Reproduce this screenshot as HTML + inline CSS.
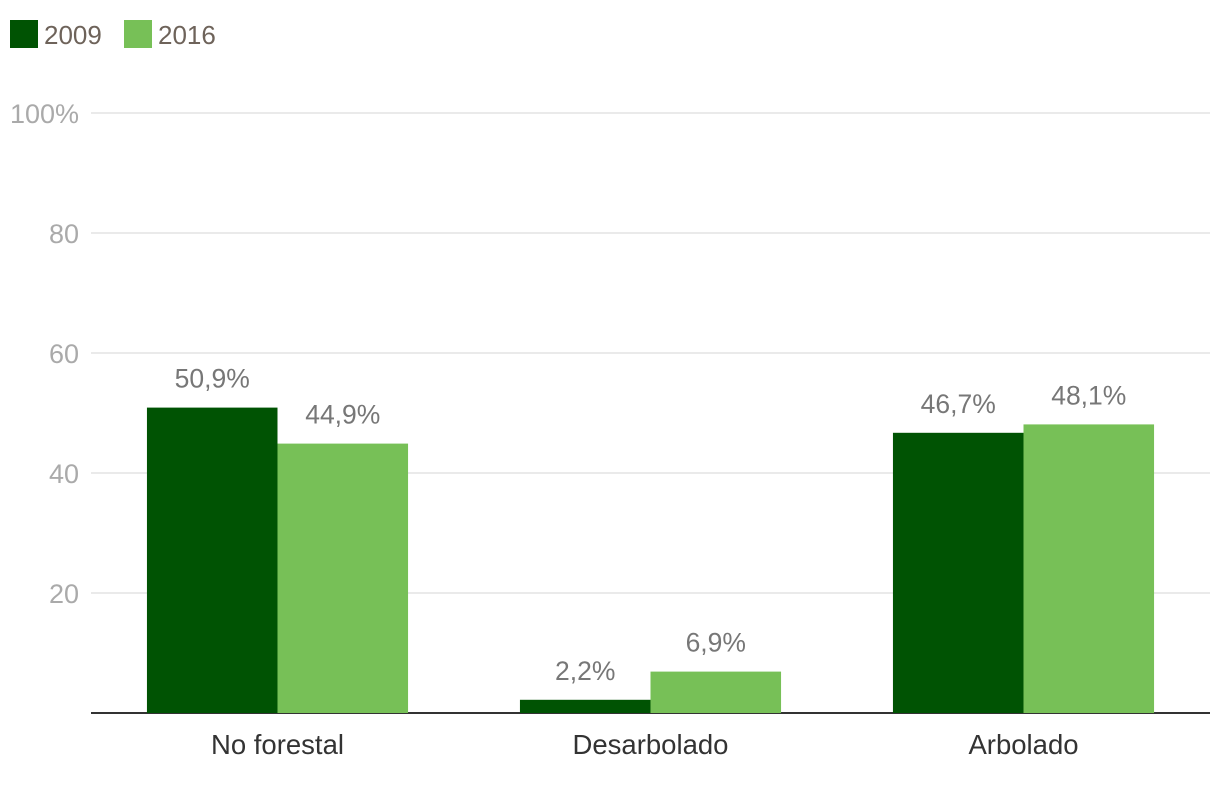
<!DOCTYPE html>
<html><head><meta charset="utf-8"><style>
body{margin:0;background:#fff;font-family:"Liberation Sans",sans-serif;}
svg{display:block}
</style></head><body>
<svg id="chart" width="1220" height="788">
  <g>
    <rect x="10" y="20" width="28" height="28" fill="#005303"/>
    <text x="44" y="44" font-size="26" fill="#6e635a">2009</text>
    <rect x="124" y="20" width="28" height="28" fill="#77c057"/>
    <text x="158" y="44" font-size="26" fill="#6e635a">2016</text>
  </g>
  <g id="grid"></g><g id="bars"></g><g id="labels"></g>
</svg>
<script>
const categories = ["No forestal","Desarbolado","Arbolado"];
const values2009 = [50.9, 2.2, 46.7];
const values2016 = [44.9, 6.9, 48.1];
const tickValues = [0,20,40,60,80,100];
const tickLabels = ["","20","40","60","80","100%"];
const NS="http://www.w3.org/2000/svg";
const x0=91,x1=1210,yTop=113,yBot=713;
const y=v=>yBot-(v/100)*(yBot-yTop);
const band=(x1-x0)/categories.length, bw=band*0.35;
function mk(t,a,p){const e=document.createElementNS(NS,t);for(const k in a)e.setAttribute(k,a[k]);p.appendChild(e);return e;}
const grid=document.getElementById('grid'),bars=document.getElementById('bars'),labels=document.getElementById('labels');
tickValues.forEach((v,i)=>{
  const l=mk('line',{x1:x0,x2:x1,y1:y(v),y2:y(v),stroke:v===0?'#333':'#e3e3e3','stroke-width':v===0?2:1.5},grid);
  
  
  if(tickLabels[i]){const t=mk('text',{x:79,y:y(v)+10,'text-anchor':'end','font-size':27,fill:'#aaaaaa'},grid);t.textContent=tickLabels[i];
  
  }
});
categories.forEach((c,i)=>{
  const cx=x0+band*(i+0.5);
  [[values2009,'#005303',cx-bw],[values2016,'#77c057',cx]].forEach(([arr,col,bx],s)=>{
    const v=arr[i];
    const r=mk('rect',{x:bx,y:y(v),width:bw,height:yBot-y(v),fill:col},bars);
    
    
    const t=mk('text',{x:bx+bw/2,y:y(v)-20,'text-anchor':'middle','font-size':26.5,fill:'#777'},labels);
    t.textContent=v.toFixed(1).replace('.',',')+'%';
    
    
  });
  const t=mk('text',{x:cx,y:754,'text-anchor':'middle','font-size':27.5,fill:'#333'},labels);
  t.textContent=c;
  
  
});
</script>
</body></html>
